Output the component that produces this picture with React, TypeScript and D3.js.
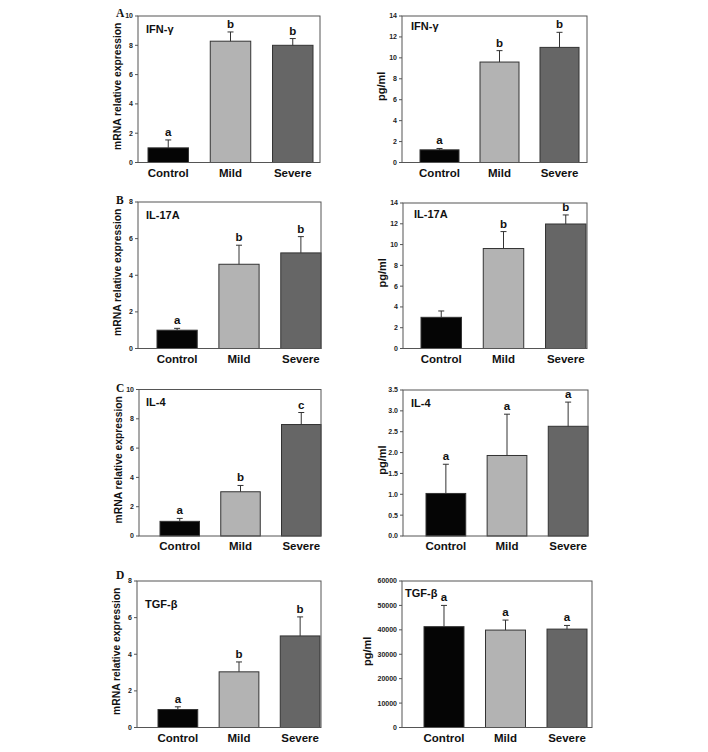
import * as d3 from 'd3';

// groups shared by every panel
const groups = ['Control', 'Mild', 'Severe'];

// mean values and upper error (SD)
const ifngMrna = [1.0, 8.28, 8.0];
const ifngMrnaErr = [0.54, 0.63, 0.46];
const ifngMrnaSig = ['a', 'b', 'b'];

const ifngProt = [1.21, 9.6, 11.0];
const ifngProtErr = [0.13, 1.09, 1.44];
const ifngProtSig = ['a', 'b', 'b'];

const il17Mrna = [1.0, 4.6, 5.22];
const il17MrnaErr = [0.1, 1.04, 0.89];
const il17MrnaSig = ['a', 'b', 'b'];

const il17Prot = [3.0, 9.62, 11.98];
const il17ProtErr = [0.61, 1.63, 0.87];
const il17ProtSig = ['', 'b', 'b'];

const il4Mrna = [1.0, 3.02, 7.61];
const il4MrnaErr = [0.2, 0.43, 0.82];
const il4MrnaSig = ['a', 'b', 'c'];

const il4Prot = [1.02, 1.93, 2.63];
const il4ProtErr = [0.7, 0.99, 0.58];
const il4ProtSig = ['a', 'a', 'a'];

const tgfMrna = [0.98, 3.04, 5.0];
const tgfMrnaErr = [0.15, 0.54, 1.04];
const tgfMrnaSig = ['a', 'b', 'b'];

const tgfProt = [41300, 39900, 40300];
const tgfProtErr = [8700, 4100, 1500];
const tgfProtSig = ['a', 'a', 'a'];

const barColors = ['#050505', '#b3b3b3', '#666666'];
const FONT = '"Liberation Sans", Arial, sans-serif';

interface PanelProps {
  title: string;
  yLabel: string;
  values: number[];
  errs: number[];
  sig: string[];
  yMax: number;
  yStep: number;
  fmt?: string;
  left: number;
  right: number;
  top: number;
  bottom: number;
  barL: number;
  barR: number;
  titleDx: number;
  titleDy: number;
  labelDx?: number;
}

function Panel(p: PanelProps) {
  const y = d3.scaleLinear().domain([0, p.yMax]).range([p.bottom, p.top]);
  const x = d3.scaleBand<string>().domain(groups).range([p.barL, p.barR]).paddingInner(0.35).paddingOuter(0);
  const ticks = d3.range(0, p.yMax + p.yStep / 2, p.yStep);
  const fmt = p.fmt ? d3.format(p.fmt) : (v: number) => String(v);
  const bw = x.bandwidth();
  const lx = p.left - (p.labelDx ?? 17);
  const cy = (p.top + p.bottom) / 2 - 3;

  return (
    <g>
      {groups.map((g, i) => {
        const x0 = x(g)!;
        const cx = x0 + bw / 2;
        const errTop = y(p.values[i] + p.errs[i]);
        return (
          <g key={g}>
            <rect x={x0} y={y(p.values[i])} width={bw} height={p.bottom - y(p.values[i])}
              fill={barColors[i]} stroke="#333" strokeWidth={1} />
            <line x1={cx} x2={cx} y1={y(p.values[i])} y2={errTop} stroke="#333" strokeWidth={1} />
            <line x1={cx - 3} x2={cx + 3} y1={errTop} y2={errTop} stroke="#333" strokeWidth={1} />
            {p.sig[i] && (
              <text x={cx} y={errTop - 4} textAnchor="middle" fontFamily={FONT} fontWeight="bold" fontSize={11.5} fill="#111">
                {p.sig[i]}
              </text>
            )}
            <text x={cx} y={p.bottom + 14} textAnchor="middle" fontFamily={FONT} fontWeight="bold" fontSize={11.5} fill="#111">
              {g}
            </text>
          </g>
        );
      })}
      <rect x={p.left} y={p.top} width={p.right - p.left} height={p.bottom - p.top} fill="none" stroke="#555" strokeWidth={1} />
      {ticks.map(t => (
        <g key={t}>
          <line x1={p.left - 3} x2={p.left} y1={y(t)} y2={y(t)} stroke="#555" strokeWidth={1} />
          <text x={p.left - 5} y={y(t)} dy="0.35em" textAnchor="end" fontFamily={FONT} fontWeight="bold" fontSize={7} fill="#222">
            {fmt(t)}
          </text>
        </g>
      ))}
      <text transform={`translate(${lx},${cy}) rotate(-90)`} textAnchor="middle" fontFamily={FONT} fontWeight="bold"
        fontSize={p.yLabel.length > 10 ? 10.3 : 11} fill="#111">
        {p.yLabel}
      </text>
      <text x={p.left + p.titleDx} y={p.top + p.titleDy} fontFamily={FONT} fontWeight="bold" fontSize={11} fill="#111">
        {p.title}
      </text>
    </g>
  );
}

const mrna = 'mRNA relative expression';
const prot = 'pg/ml';

export default function App() {
  return (
    <svg width={708} height={752} style={{ position: 'absolute', left: 0, top: 0, background: '#fff' }}>
      {[
        ['A', 17], ['B', 204], ['C', 392], ['D', 579],
      ].map(([l, yy]) => (
        <text key={l as string} x={116} y={yy as number} fontFamily='"Liberation Serif", "Times New Roman", serif' fontWeight="bold" fontSize={11.5} fill="#111">
          {l}
        </text>
      ))}

      <Panel title="IFN-γ" yLabel={mrna} values={ifngMrna} errs={ifngMrnaErr} sig={ifngMrnaSig} yMax={10} yStep={2}
        left={138} right={320} top={16} bottom={162.5} barL={148} barR={313} titleDx={8} titleDy={17} />
      <Panel title="IFN-γ" yLabel={prot} values={ifngProt} errs={ifngProtErr} sig={ifngProtSig} yMax={14} yStep={2}
        left={402} right={587} top={16} bottom={162.5} barL={420} barR={579} titleDx={9} titleDy={14} />

      <Panel title="IL-17A" yLabel={mrna} values={il17Mrna} errs={il17MrnaErr} sig={il17MrnaSig} yMax={8} yStep={2}
        left={138} right={321} top={202} bottom={348.5} barL={157} barR={321} titleDx={8} titleDy={17} />
      <Panel title="IL-17A" yLabel={prot} values={il17Prot} errs={il17ProtErr} sig={il17ProtSig} yMax={14} yStep={2}
        left={403} right={587} top={203} bottom={348.5} barL={421} barR={586} titleDx={11} titleDy={14.5} />

      <Panel title="IL-4" yLabel={mrna} values={il4Mrna} errs={il4MrnaErr} sig={il4MrnaSig} yMax={10} yStep={2}
        left={139} right={321} top={389.5} bottom={536} barL={160} barR={321} titleDx={7} titleDy={16} />
      <Panel title="IL-4" yLabel={prot} values={il4Prot} errs={il4ProtErr} sig={il4ProtSig} yMax={3.5} yStep={0.5} fmt=".1f"
        left={403} right={588} top={390} bottom={536} barL={426} barR={588} titleDx={8} titleDy={17} />

      <Panel title="TGF-β" yLabel={mrna} values={tgfMrna} errs={tgfMrnaErr} sig={tgfMrnaSig} yMax={8} yStep={2}
        left={137} right={321} top={581} bottom={727.5} barL={158} barR={320} titleDx={8} titleDy={27} />
      <Panel title="TGF-β" yLabel={prot} values={tgfProt} errs={tgfProtErr} sig={tgfProtSig} yMax={60000} yStep={10000}
        left={402} right={592} top={581} bottom={727.5} barL={424} barR={587} titleDx={3} titleDy={16} labelDx={31} />
    </svg>
  );
}
